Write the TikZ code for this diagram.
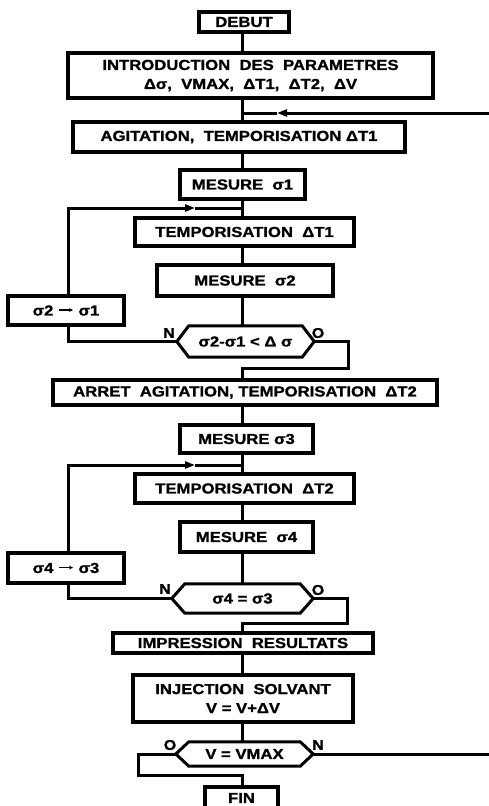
\documentclass[tikz,border=0pt]{standalone}
\usepackage{fontspec}
\setmainfont{Liberation Sans}[FakeStretch=1.15, BoldFeatures={FakeBold=1.2}]
\usetikzlibrary{arrows.meta}
\newcommand{\myarrow}{\hspace{5pt}\raisebox{0.45ex}{\tikz{\draw[line width=1.2pt,-{Stealth[length=4pt,width=4pt]}] (0,0) -- (14pt,0);}}\hspace{5pt}}
\begin{document}
\begin{tikzpicture}[x=1pt,y=-1pt,
  box/.style={draw, line width=3.2pt, inner sep=0pt, align=center,
    font=\fontsize{14.5}{19}\selectfont\bfseries},
  hexbox/.style={inner sep=0pt, font=\fontsize{14.5}{19}\selectfont\bfseries},
  hexline/.style={line width=3pt, line join=miter},
  conn/.style={line width=3pt},
  arr/.style={line width=3pt, -{Triangle[length=10pt,width=7pt]}},
  lab/.style={font=\fontsize{14}{14}\selectfont\bfseries, inner sep=0pt}]
\useasboundingbox (0,0) rectangle (489,806);
\coordinate (ax) at (242,0);
% boxes
\node[box, minimum width=90, minimum height=20] (debut) at (244,22) {DEBUT};
\node[box, minimum width=365, minimum height=45] (intro) at (250.5,75.5) {INTRODUCTION \ DES \ PARAMETRES\\Δσ, \ VMAX, \ ΔT1, \ ΔT2, \ ΔV};
\node[box, minimum width=332, minimum height=30] (agit) at (239,137) {AGITATION, \ TEMPORISATION ΔT1};
\node[box, minimum width=125, minimum height=29] (m1) at (242.5,184.5) {MESURE \ σ1};
\node[box, minimum width=219, minimum height=28] (t1) at (244.5,232) {TEMPORISATION \ ΔT1};
\node[box, minimum width=176, minimum height=31] (m2) at (245,280.5) {MESURE \ σ2};
\node[box, minimum width=116, minimum height=29] (s21) at (66,310.5) {σ2\myarrow σ1};
\node[hexbox, minimum width=137, minimum height=31] (h1) at (245.5,341.5) {σ2-σ1 < Δ σ};
\node[box, minimum width=384, minimum height=25] (arret) at (245,392.5) {ARRET \ AGITATION, TEMPORISATION \ ΔT2};
\node[box, minimum width=133, minimum height=28] (m3) at (246.5,439) {MESURE σ3};
\node[box, minimum width=219, minimum height=29] (t2) at (244.5,488.5) {TEMPORISATION \ ΔT2};
\node[box, minimum width=133, minimum height=30] (m4) at (246.5,537) {MESURE \ σ4};
\node[box, minimum width=116, minimum height=30] (s43) at (66,568) {σ4\myarrow σ3};
\node[hexbox, minimum width=141, minimum height=29] (h2) at (242.5,598.5) {σ4 = σ3};
\node[box, minimum width=260, minimum height=20] (impr) at (243,643) {IMPRESSION \ RESULTATS};
\node[box, minimum width=220, minimum height=47] (inj) at (243,698.5) {INJECTION \ SOLVANT\\V = V+ΔV};
\node[hexbox, minimum width=137, minimum height=24] (h3) at (244.5,754) {V = VMAX};
\node[box, minimum width=73, minimum height=22] (fin) at (241.5,798) {FIN};
% hexagon outlines
\foreach \h/\c in {h1/12,h2/13,h3/13}{
  \draw[hexline] (\h.west) -- ([xshift=\c pt]\h.north west) -- ([xshift=-\c pt]\h.north east) -- (\h.east)
    -- ([xshift=-\c pt]\h.south east) -- ([xshift=\c pt]\h.south west) -- cycle;
}
% labels
\node[lab] (n1) at (169,333) {N};
\node[lab] (o1) at (318,333) {O};
\node[lab] (n2) at (165,589) {N};
\node[lab] (o2) at (318,590) {O};
\node[lab] (o3) at (170,745) {O};
\node[lab] (n3) at (318,745) {N};
% coordinates
\coordinate (inR) at (489,113);
\coordinate (inA) at (277,113);
\coordinate (j0) at (242,113);
\coordinate (j1) at (242,208);
\coordinate (a1) at (195,208);
\coordinate (j2) at (242,465);
\coordinate (a2) at (195,465);
\coordinate (r1) at (348,368);
\coordinate (r2) at (347,623);
\coordinate (l3) at (138,775);
\coordinate (outR) at (489,754);
% main line
\draw[conn] (debut.south -| ax) -- (intro.north -| ax);
\draw[conn] (intro.south -| ax) -- (agit.north -| ax);
\draw[arr] (inR) -- (inA);
\draw[conn] (inA) -- (j0);
\draw[conn] (agit.south -| ax) -- (m1.north -| ax);
\draw[conn] (m1.south -| ax) -- (t1.north -| ax);
\draw[conn] (t1.south -| ax) -- (m2.north -| ax);
\draw[conn] (m2.south -| ax) -- (h1.north -| ax);
% loop 1
\draw[conn] (h1.west) -- (h1.west -| 68,0) -- (s21.south -| 68,0);
\draw[arr] (s21.north -| 68,0) -- (j1 -| 68,0) -- (a1);
\draw[conn] (a1) -- (j1);
\draw[conn] (h1.east) -- (h1.east -| r1) -- (r1) -- (r1 -| ax) -- (arret.north -| ax);
\draw[conn] (arret.south -| ax) -- (m3.north -| ax);
\draw[conn] (m3.south -| ax) -- (t2.north -| ax);
\draw[conn] (t2.south -| ax) -- (m4.north -| ax);
\draw[conn] (m4.south -| ax) -- (h2.north -| ax);
% loop 2
\draw[conn] (h2.west) -- (h2.west -| 68,0) -- (s43.south -| 68,0);
\draw[arr] (s43.north -| 68,0) -- (j2 -| 68,0) -- (a2);
\draw[conn] (a2) -- (j2);
\draw[conn] (h2.east) -- (h2.east -| r2) -- (r2) -- (r2 -| ax) -- (impr.north -| ax);
\draw[conn] (impr.south -| ax) -- (inj.north -| ax);
\draw[conn] (inj.south -| ax) -- (h3.north -| ax);
\draw[conn] (h3.east) -- (outR);
\draw[conn] (h3.west) -- (h3.west -| l3) -- (l3) -- (l3 -| ax) -- (fin.north -| ax);
\end{tikzpicture}
\end{document}
